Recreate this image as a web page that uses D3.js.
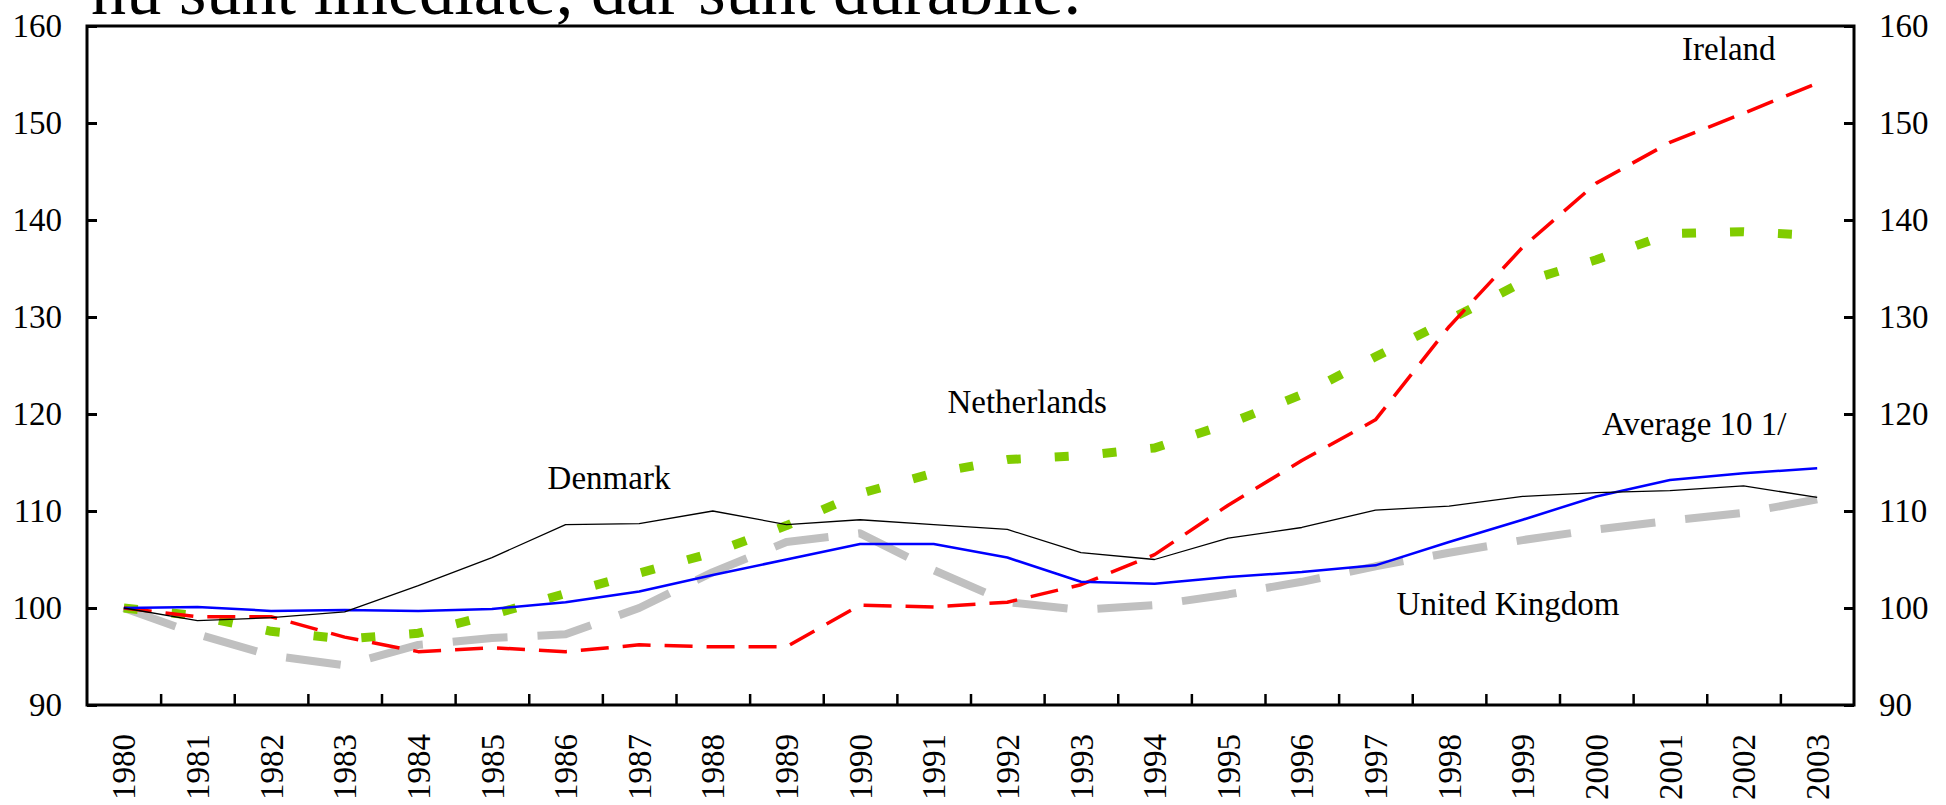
<!DOCTYPE html>
<html>
<head>
<meta charset="utf-8">
<script src="https://cdn.jsdelivr.net/npm/d3@7"></script>
<style>
    body { margin: 0; background: white; }
    svg { display: block; }
</style>
</head>
<body>
<div id="chart"></div>
<script>

// data (index, 1980 = 100)
let years = ['1980', '1981', '1982', '1983', '1984', '1985', '1986', '1987', '1988', '1989', '1990', '1991',
    '1992', '1993', '1994', '1995', '1996', '1997', '1998', '1999', '2000', '2001', '2002', '2003'];
let unitedKingdom = [100, 97.3, 95.1, 94.1, 96.2, 96.9, 97.3, 100.0, 103.7, 106.8, 107.7, 103.9,
    100.6, 99.8, 100.3, 101.4, 102.7, 104.3, 105.7, 107.0, 108.1, 109.0, 109.8, 111.2];
let netherlands = [100, 99.2, 97.6, 96.8, 97.4, 99.3, 101.5, 103.6, 105.7, 108.5, 111.8, 113.9,
    115.3, 115.7, 116.5, 119.0, 122.0, 125.9, 129.7, 133.6, 135.9, 138.6, 138.8, 138.4];
let ireland = [100, 99.1, 99.1, 97.0, 95.5, 95.9, 95.5, 96.2, 96.0, 96.0, 100.3, 100.1,
    100.6, 102.4, 105.5, 110.6, 115.2, 119.4, 129.0, 137.2, 143.8, 148.0, 151.0, 154.1];
let average10 = [100, 100.1, 99.7, 99.8, 99.7, 99.9, 100.6, 101.7, 103.4, 105.0, 106.6, 106.6,
    105.2, 102.7, 102.5, 103.2, 103.7, 104.4, 106.8, 109.1, 111.5, 113.2, 113.9, 114.4];
let denmark = [100, 98.7, 99.0, 99.6, 102.3, 105.2, 108.6, 108.7, 110.0, 108.6, 109.1, 108.6,
    108.1, 105.7, 105.0, 107.2, 108.3, 110.1, 110.5, 111.5, 111.9, 112.1, 112.6, 111.4];
let yTicks = [90, 100, 110, 120, 130, 140, 150, 160];

// series names and where their labels sit (year index, value)
let seriesNames = ['United Kingdom', 'Netherlands', 'Ireland', 'Average 10 1/', 'Denmark'];
let labelIndex = [18.8, 12.27, 21.8, 21.33, 6.59];
let labelValue = [99.3, 120.1, 156.5, 117.8, 112.3];

/** Class drawing the income index chart. */
class IndexChart {

    constructor() {
        this.width = 1946;
        this.height = 805;
        this.left = 87;
        this.right = 1854;
        this.top = 26;
        this.bottom = 705;
        this.svg = d3.select('#chart')
            .append('svg')
            .attr('width', this.width)
            .attr('height', this.height)
        ;
        this.x = d3.scaleBand()
            .domain(years)
            .range([this.left, this.right])
            .padding(0)
        ;
        this.y = d3.scaleLinear()
            .domain([90, 160])
            .range([this.bottom, this.top])
        ;
        this.draw();
    };

    draw() {
        let x = this.x;
        let y = this.y;
        let half = x.bandwidth() / 2;
        let font = '"Liberation Serif", "Times New Roman", serif';

        // text of the page above the chart, cut off at the top like in the scan
        this.svg.append('text')
            .attr('x', 91)
            .attr('y', 14)
            .attr('textLength', 990)
            .attr('lengthAdjust', 'spacingAndGlyphs')
            .style('font-family', font)
            .style('font-size', '70px')
            .style('fill', 'black')
            .text('nu sunt imediate, dar sunt durabile.')
        ;

        // styles for each series, same order as seriesNames
        let styles = [
            {color: '#c0c0c0', width: 8, dash: '55,30'},
            {color: '#80cc00', width: 9, dash: '14,34'},
            {color: '#ff0000', width: 3.5, dash: '28,14'},
            {color: '#0000ff', width: 2.5, dash: null},
            {color: '#000000', width: 1.3, dash: null}
        ];
        let series = [unitedKingdom, netherlands, ireland, average10, denmark];

        let line = d3.line()
            .x((d, i) => x(years[i]) + half)
            .y(d => y(d))
        ;
        this.svg.selectAll('path.series')
            .data(series)
            .enter()
            .append('path')
            .attr('class', 'series')
            .attr('d', d => line(d))
            .style('fill', 'none')
            .style('stroke', (d, i) => styles[i].color)
            .style('stroke-width', (d, i) => styles[i].width)
            .style('stroke-dasharray', (d, i) => styles[i].dash)
            .style('stroke-linejoin', 'round')
        ;

        // frame
        this.svg.append('rect')
            .attr('x', this.left)
            .attr('y', this.top)
            .attr('width', this.right - this.left)
            .attr('height', this.bottom - this.top)
            .style('fill', 'none')
            .style('stroke', 'black')
            .style('stroke-width', 3)
        ;

        // year labels, rotated
        let xAxis = this.svg.append('g')
            .attr('transform', `translate(0, ${this.bottom})`)
            .call(d3.axisBottom(x).tickSize(0))
        ;
        xAxis.select('.domain').remove();
        xAxis.selectAll('text')
            .attr('transform', 'rotate(-90)')
            .attr('text-anchor', 'end')
            .attr('x', -29)
            .attr('y', 0)
            .attr('dy', '0.35em')
            .style('font-family', font)
            .style('font-size', '33px')
            .style('fill', 'black')
        ;

        // tick marks between the years, pointing into the plot
        let xEdges = d3.scaleLinear()
            .domain([0, years.length])
            .range([this.left, this.right])
        ;
        let xTicks = this.svg.append('g')
            .attr('transform', `translate(0, ${this.bottom})`)
            .call(d3.axisTop(xEdges).tickValues(d3.range(1, years.length)).tickSize(11).tickFormat(''))
        ;
        xTicks.select('.domain').remove();
        xTicks.selectAll('line').style('stroke', 'black').style('stroke-width', 2.5);

        // value axes on both sides
        let yLeft = this.svg.append('g')
            .attr('transform', `translate(${this.left}, 0)`)
            .call(d3.axisLeft(y).tickValues(yTicks).tickSize(-10).tickPadding(25))
        ;
        let yRight = this.svg.append('g')
            .attr('transform', `translate(${this.right}, 0)`)
            .call(d3.axisRight(y).tickValues(yTicks).tickSize(-10).tickPadding(25))
        ;
        [yLeft, yRight].forEach(function (g) {
            g.select('.domain').remove();
            g.selectAll('line').style('stroke', 'black').style('stroke-width', 3);
            g.selectAll('text')
                .style('font-family', font)
                .style('font-size', '33px')
                .style('fill', 'black')
            ;
        });

        // series labels
        let xIndex = d3.scaleLinear()
            .domain([0, years.length - 1])
            .range([x(years[0]) + half, x(years[years.length - 1]) + half])
        ;
        this.svg.selectAll('text.label')
            .data(seriesNames)
            .enter()
            .append('text')
            .attr('class', 'label')
            .attr('x', (d, i) => xIndex(labelIndex[i]))
            .attr('y', (d, i) => y(labelValue[i]))
            .attr('text-anchor', 'middle')
            .style('font-family', font)
            .style('font-size', '33px')
            .style('fill', 'black')
            .text(d => d)
        ;
    }
}

let chart = new IndexChart();
</script>
</body>
</html>
